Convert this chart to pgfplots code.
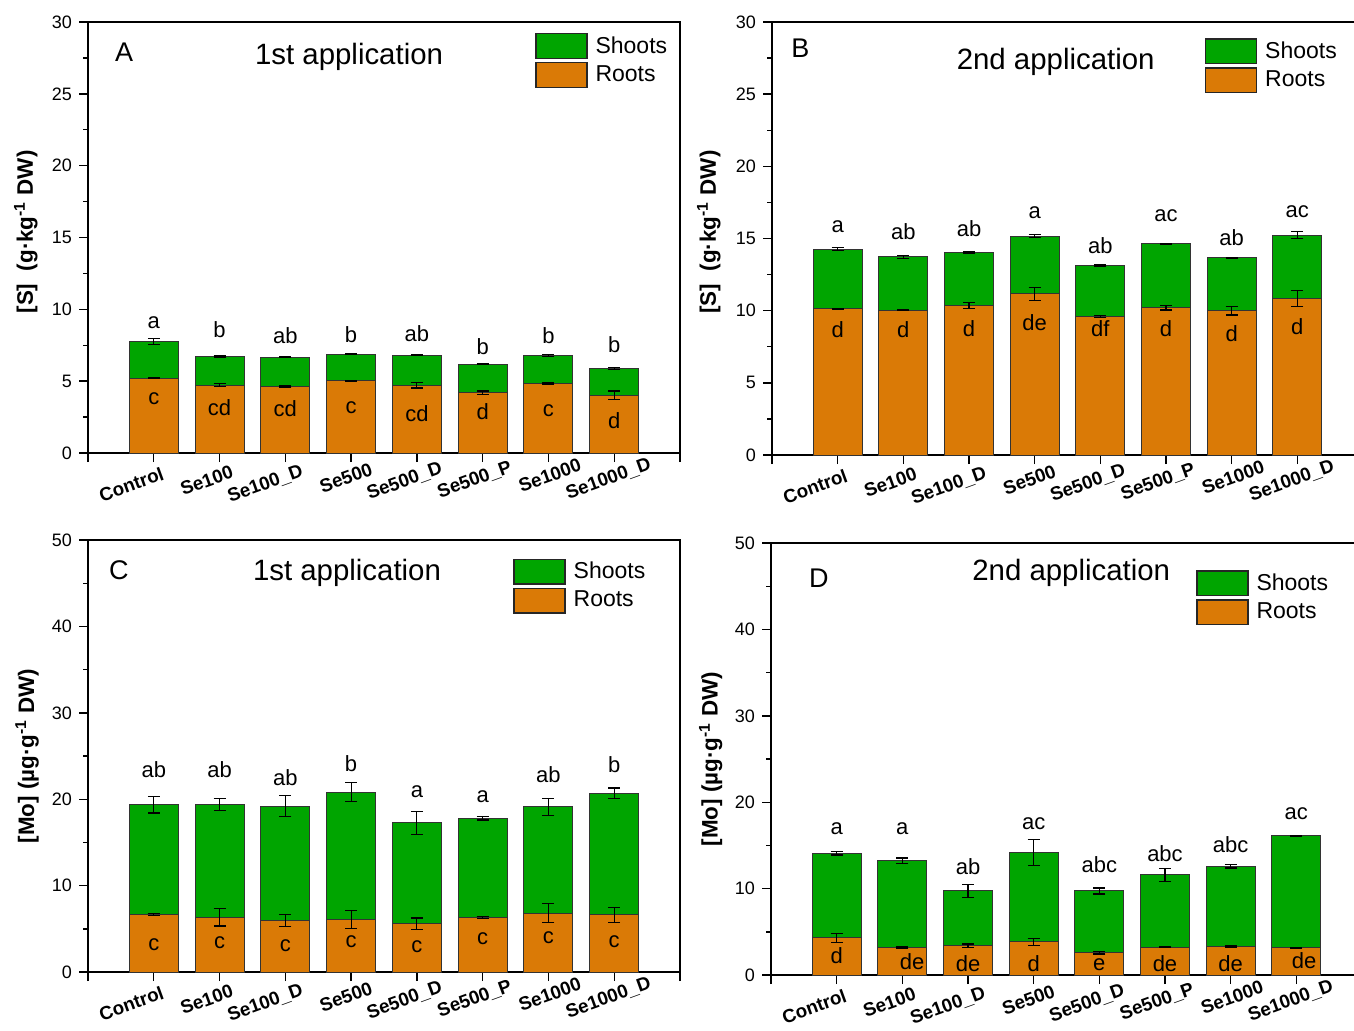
\documentclass[border=0pt]{standalone}
\usepackage{fontspec}
\setmainfont{Liberation Sans}
\usepackage{pgfplots}
\usepackage{pgfplotstable}
\pgfplotsset{compat=1.18}
\definecolor{shootg}{RGB}{0,165,0}
\definecolor{rooto}{RGB}{218,122,6}

% x root rerr shoot terr
\pgfplotstableread{
x root rerr shoot terr
0 5.21 0.04 2.55 0.20
1 4.73 0.10 2.01 0.05
2 4.63 0.03 2.04 0.03
3 5.03 0.03 1.85 0.03
4 4.73 0.20 2.08 0.05
5 4.19 0.12 1.99 0.02
6 4.86 0.05 1.95 0.07
7 4.03 0.29 1.85 0.08
}\dataA
\pgfplotstableread{
x root rerr shoot terr
0 10.13 0.03 4.14 0.10
1 10.02 0.03 3.70 0.12
2 10.36 0.20 3.64 0.06
3 11.17 0.46 4.00 0.10
4 9.60 0.05 3.52 0.05
5 10.20 0.15 4.42 0.05
6 10.00 0.30 3.67 0.03
7 10.85 0.55 4.39 0.25
}\dataB
\pgfplotstableread{
x root rerr shoot terr
0 6.64 0.12 12.74 0.97
1 6.33 1.00 13.05 0.68
2 5.98 0.68 13.21 1.20
3 6.06 1.06 14.75 1.10
4 5.60 0.66 11.66 1.30
5 6.33 0.10 11.47 0.20
6 6.83 1.06 12.28 0.98
7 6.60 0.85 14.09 0.60
}\dataC
\pgfplotstableread{
x root rerr shoot terr
0 4.32 0.52 9.77 0.20
1 3.17 0.08 10.07 0.30
2 3.40 0.20 6.33 0.73
3 3.86 0.40 10.31 1.50
4 2.59 0.15 7.14 0.35
5 3.20 0.05 8.38 0.77
6 3.28 0.08 9.31 0.20
7 3.17 0.05 12.97 0.05
}\dataD

\tikzset{
  plabel/.style={font=\fontsize{13.5}{15}\selectfont},
  ptitle/.style={font=\fontsize{14.7}{16}\selectfont},
}
\pgfplotsset{
  panel/.style={
    scale only axis, anchor=south west,
    ybar, bar width=24.5pt, bar shift=0pt,
    xmin=-1, xmax=8, xtick={0,...,7},
    extra x ticks={-1,8}, extra x tick labels={},
    xticklabels={Control,Se100,Se100\_D,Se500,Se500\_D,Se500\_P,Se1000,Se1000\_D},
    xticklabel style={rotate=20, anchor=north east, xshift={3.5pt+2.05pt*\ticknum}, yshift=-2pt,
      inner sep=1pt, font=\fontsize{9.4}{10}\selectfont\bfseries},
    ymin=0,
    tick align=outside, xtick pos=bottom, ytick pos=left,
    major tick length=4.5pt, minor tick length=2.5pt,
    minor y tick num=1,
    axis line style={line width=0.9pt},
    every tick/.style={black, line width=0.7pt},
    /pgf/number format/assume math mode=true,
    yticklabel style={font=\fontsize{9}{10}\selectfont},
    ylabel style={font=\fontsize{11.2}{13}\selectfont\bfseries, anchor=center},
    legend cell align=left,
    legend style={draw=none, fill=none, font=\fontsize{11.5}{13}\selectfont, inner sep=0pt, row sep=1.5pt,
      column sep=2.5pt, nodes={inner sep=1.5pt}},
  },
  swatch/.style={legend image code/.code={\draw[##1, draw=black!85, line width=0.6pt] (0pt,-6.2pt) rectangle (25.5pt,6.2pt);}},
  errs/.style={error bars/.cd, y dir=both, y explicit,
      error bar style={black, line width=0.6pt},
      error mark options={rotate=90, mark size=3pt, black, line width=0.6pt}},
  letters/.style={draw=none, fill=none, nodes near coords, point meta=explicit symbolic,
      every node near coord/.append style={anchor=center, black, font=\fontsize{11}{13}\selectfont}, forget plot},
}

\begin{document}
\begin{tikzpicture}
\path[use as bounding box] (0,0) rectangle (677pt,-515pt);

% ---------------- A ----------------
\begin{axis}[panel, at={(44pt,-226.5pt)}, width=296pt, height=215.5pt,
  ymax=30, ytick={0,5,...,30},
  ylabel={[S]\ \ (g·kg\textsuperscript{-1} DW)},
  ylabel style={at={(axis description cs:-0.105,0.513)}},
  legend style={at={(0.755,0.975)}, anchor=north west}]
\addplot[fill=shootg, draw=black!80, line width=0.5pt, swatch, errs] table[x=x, y expr=\thisrow{root}+\thisrow{shoot}, y error=terr] {\dataA};
\addlegendentry{Shoots}
\addplot[fill=rooto, draw=black!80, line width=0.5pt, swatch, errs] table[x=x, y=root, y error=rerr] {\dataA};
\addlegendentry{Roots}
\addplot[letters] table[meta=l] {
x y l
0 9.08 a
1 8.60 b
2 8.15 ab
3 8.27 b
4 8.30 ab
5 7.40 b
6 8.15 b
7 7.57 b
};
\addplot[letters] table[meta=l] {
x y l
0 3.75 c
1 3.13 cd
2 3.06 cd
3 3.13 c
4 2.71 cd
5 2.87 d
6 2.94 c
7 2.25 d
};
\node[plabel] at (rel axis cs:0.061,0.93) {A};
\node[ptitle] at (rel axis cs:0.441,0.919) {1st application};
\end{axis}

% ---------------- B ----------------
\begin{axis}[panel, at={(386pt,-227.5pt)}, width=295.5pt, height=216.5pt,
  ymax=30, ytick={0,5,...,30},
  ylabel={[S]\ \ (g·kg\textsuperscript{-1} DW)},
  ylabel style={at={(axis description cs:-0.107,0.515)}},
  legend style={at={(0.732,0.963)}, anchor=north west}]
\addplot[fill=shootg, draw=black!80, line width=0.5pt, swatch, errs] table[x=x, y expr=\thisrow{root}+\thisrow{shoot}, y error=terr] {\dataB};
\addlegendentry{Shoots}
\addplot[fill=rooto, draw=black!80, line width=0.5pt, swatch, errs] table[x=x, y=root, y error=rerr] {\dataB};
\addlegendentry{Roots}
\addplot[letters] table[meta=l] {
x y l
0 15.85 a
1 15.50 ab
2 15.66 ab
3 16.77 a
4 14.53 ab
5 16.59 ac
6 15.08 ab
7 16.89 ac
};
\addplot[letters] table[meta=l] {
x y l
0 8.67 d
1 8.67 d
2 8.79 d
3 9.14 de
4 8.79 df
5 8.79 d
6 8.44 d
7 8.86 d
};
\node[plabel] at (rel axis cs:0.048,0.94) {B};
\node[ptitle] at (rel axis cs:0.48,0.908) {2nd application};
\end{axis}

% ---------------- C ----------------
\begin{axis}[panel, at={(44pt,-486pt)}, width=296pt, height=216pt,
  ymax=50, ytick={0,10,...,50},
  ylabel={[Mo] (µg·g\textsuperscript{-1} DW)},
  ylabel style={at={(axis description cs:-0.103,0.5)}},
  legend style={at={(0.718,0.958)}, anchor=north west}]
\addplot[fill=shootg, draw=black!80, line width=0.5pt, swatch, errs] table[x=x, y expr=\thisrow{root}+\thisrow{shoot}, y error=terr] {\dataC};
\addlegendentry{Shoots}
\addplot[fill=rooto, draw=black!80, line width=0.5pt, swatch, errs] table[x=x, y=root, y error=rerr] {\dataC};
\addlegendentry{Roots}
\addplot[letters] table[meta=l] {
x y l
0 23.44 ab
1 23.44 ab
2 22.47 ab
3 24.10 b
4 20.90 a
5 20.27 a
6 22.86 ab
7 24.00 b
};
\addplot[letters] table[meta=l] {
x y l
0 3.17 c
1 3.44 c
2 3.09 c
3 3.55 c
4 2.97 c
5 3.82 c
6 3.94 c
7 3.55 c
};
\node[plabel] at (rel axis cs:0.052,0.93) {C};
\node[ptitle] at (rel axis cs:0.4375,0.924) {1st application};
\end{axis}

% ---------------- D ----------------
\begin{axis}[panel, at={(385.5pt,-487.5pt)}, width=295.5pt, height=216pt,
  ymax=50, ytick={0,10,...,50},
  ylabel={[Mo] (µg·g\textsuperscript{-1} DW)},
  ylabel style={at={(axis description cs:-0.102,0.5)}},
  legend style={at={(0.719,0.9375)}, anchor=north west}]
\addplot[fill=shootg, draw=black!80, line width=0.5pt, swatch, errs] table[x=x, y expr=\thisrow{root}+\thisrow{shoot}, y error=terr] {\dataD};
\addlegendentry{Shoots}
\addplot[fill=rooto, draw=black!80, line width=0.5pt, swatch, errs] table[x=x, y=root, y error=rerr] {\dataD};
\addlegendentry{Roots}
\addplot[letters] table[meta=l] {
x y l
0 16.90 a
1 16.90 a
2 12.55 ab
3 17.57 ac
4 12.74 abc
5 14.09 abc
6 15.14 abc
7 18.73 ac
};
\addplot[letters] table[meta=l] {
x y l
0 2.20 d
1.15 1.54 de
2 1.35 de
3 1.35 d
4 1.24 e
5 1.35 de
6 1.35 de
7.12 1.62 de
};
\node[plabel] at (rel axis cs:0.081,0.919) {D};
\node[ptitle] at (rel axis cs:0.508,0.931) {2nd application};
\end{axis}
\end{tikzpicture}
\end{document}
